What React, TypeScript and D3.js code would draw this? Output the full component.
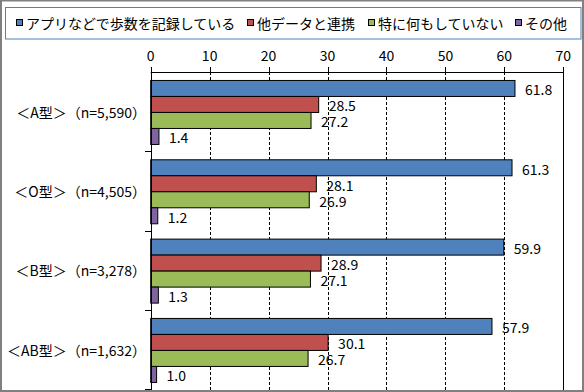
import React from "react";
import * as d3 from "d3";

const categories = [
  "＜A型＞（n=5,590）",
  "＜O型＞（n=4,505）",
  "＜B型＞（n=3,278）",
  "＜AB型＞（n=1,632）",
];
const seriesNames = ["アプリなどで歩数を記録している", "他データと連携", "特に何もしていない", "その他"];
const appValues = [61.8, 61.3, 59.9, 57.9];
const linkValues = [28.5, 28.1, 28.9, 30.1];
const nothingValues = [27.2, 26.9, 27.1, 26.7];
const otherValues = [1.4, 1.2, 1.3, 1.0];
const seriesValues = [appValues, linkValues, nothingValues, otherValues];
const colors = ["#4F81BD", "#C0504D", "#9BBB59", "#8064A2"];
const ticks = [0, 10, 20, 30, 40, 50, 60, 70];

const W = 584;
const H = 392;
const FONT = "'Noto Sans CJK JP', 'Noto Sans', sans-serif";

export default function App() {
  const x = d3.scaleLinear().domain([0, 70]).range([150.7, 563.3]);
  const y = d3.scaleBand<string>().domain(categories).range([72, 389.3]).padding(0);
  const bw = y.bandwidth();
  const groupH = 64;
  const off = (bw - groupH) / 2 + 0.8;
  const y1 = d3.scaleBand<number>().domain([0, 1, 2, 3]).range([off, off + groupH]).padding(0);

  const legendX = [16, 247, 368, 515];

  return (
    <svg
      width={W}
      height={H}
      style={{ position: "fixed", left: 0, top: 0, background: "#fff" }}
      fontFamily={FONT}
    >
      <rect x={0} y={0} width={W} height={H} fill="#fff" />
      {/* legend */}
      <rect x={5.5} y={7.5} width={575.5} height={31.5} fill="#fff" stroke="#4F81BD" strokeWidth={1} />
      {seriesNames.map((n, i) => (
        <g key={n}>
          <rect x={legendX[i] + 0.5} y={19.5} width={6} height={6} fill={colors[i]} stroke="#000" strokeWidth={1} />
          <text x={legendX[i] + 10} y={23} dominantBaseline="central" fontSize={14} fill="#000">
            {n}
          </text>
        </g>
      ))}

      {/* gridlines */}
      {ticks.slice(1, -1).map((t) => (
        <line
          key={"g" + t}
          x1={Math.round(x(t)) + 0.5}
          x2={Math.round(x(t)) + 0.5}
          y1={72}
          y2={390}
          stroke="#000"
          strokeWidth={1}
          strokeDasharray="3,2"
        />
      ))}
      {/* right border of plot */}
      <line x1={Math.round(x(70)) + 0.5} x2={Math.round(x(70)) + 0.5} y1={72} y2={390} stroke="#000" />

      {/* top axis */}
      <line x1={x(0)} x2={Math.round(x(70)) + 1} y1={72.5} y2={72.5} stroke="#000" />
      {ticks.map((t) => (
        <g key={"t" + t}>
          <line
            x1={Math.round(x(t)) + 0.5}
            x2={Math.round(x(t)) + 0.5}
            y1={67}
            y2={72}
            stroke="#000"
          />
          <text x={x(t)} y={55} textAnchor="middle" dominantBaseline="central" fontSize={14} fill="#000">
            {t}
          </text>
        </g>
      ))}

      {/* bars */}
      {categories.map((c, ci) => (
        <g key={c} transform={`translate(0,${y(c)})`}>
          {seriesValues.map((vals, si) => {
            const v = vals[ci];
            const yy = y1(si)!;
            return (
              <g key={si}>
                <rect
                  x={x(0)}
                  y={yy}
                  width={x(v) - x(0)}
                  height={y1.bandwidth()}
                  fill={colors[si]}
                  stroke="#000"
                  strokeWidth={1}
                />
                <text
                  x={x(v) + 10}
                  y={yy + y1.bandwidth() / 2 + 1}
                  dominantBaseline="central"
                  fontSize={14}
                  fill="#000"
                >
                  {v.toFixed(1)}
                </text>
              </g>
            );
          })}
          <text
            x={146}
            y={bw / 2}
            textAnchor="end"
            dominantBaseline="central"
            fontSize={14}
            fill="#000"
          >
            {c}
          </text>
        </g>
      ))}

      {/* left axis */}
      <line x1={Math.round(x(0)) + 0.5} x2={Math.round(x(0)) + 0.5} y1={72} y2={390} stroke="#000" />
      {categories.map((c) => (
        <line
          key={"lt" + c}
          x1={145}
          x2={151}
          y1={Math.round(y(c)! + bw) + 0.5}
          y2={Math.round(y(c)! + bw) + 0.5}
          stroke="#000"
        />
      ))}

      {/* outer border */}
      <rect x={1} y={0.5} width={W - 2} height={H - 1.5} fill="none" stroke="#808080" strokeWidth={2} />
    </svg>
  );
}
